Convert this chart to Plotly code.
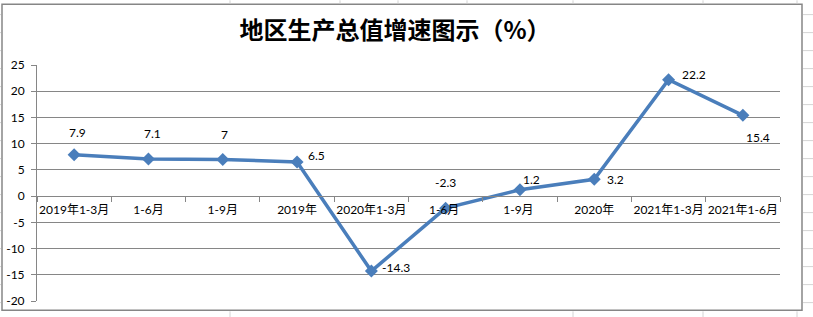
import plotly.graph_objects as go

categories = ["2019年1-3月", "1-6月", "1-9月", "2019年", "2020年1-3月",
              "1-6月 ", "1-9月 ", "2020年", "2021年1-3月", "2021年1-6月"]
values = [7.9, 7.1, 7, 6.5, -14.3, -2.3, 1.2, 3.2, 22.2, 15.4]
value_labels = ["7.9", "7.1", "7", "6.5", "-14.3", "-2.3", "1.2", "3.2", "22.2", "15.4"]
label_dx = [3, 4, 2, 19, 25, 0, 12, 21, 25, 15]
label_dy = [22, 25, 25, 7, 4, 26, 10, 0, 5, -22]
y_ticks = [25, 20, 15, 10, 5, 0, -5, -10, -15, -20]

W, H = 813, 317
L, R, T, B = 37, 33, 64.7, 16.3
pw, ph = W - L - R, H - T - B

def px(x):
    return (x - L) / pw

def py(y):
    return (H - B - y) / ph

grey = "#868686"
blue = "#4A7EBB"
num_font = "Lato, Liberation Sans, sans-serif"
cjk_font = "Lato, Noto Sans CJK SC, sans-serif"

fig = go.Figure()
fig.add_trace(go.Scatter(
    x=categories, y=values, mode="lines+markers",
    line=dict(color=blue, width=3.5),
    marker=dict(symbol="diamond", size=10, color=blue),
    hoverinfo="skip", showlegend=False,
))

for c, v, t, dx, dy in zip(categories, values, value_labels, label_dx, label_dy):
    fig.add_annotation(x=c, y=v, text=t, showarrow=False, xshift=dx, yshift=dy,
                       font=dict(family=num_font, size=12, color="black"))

shapes = []
# chart area border
shapes.append(dict(type="rect", xref="paper", yref="paper",
                   x0=px(2), x1=px(802), y0=py(310), y1=py(4),
                   line=dict(color=grey, width=1.5), layer="below"))
# faint spreadsheet grid outside the chart
sheet = "#D4D4D4"
for xv in [230, 340, 398, 467, 573, 703, 797]:
    shapes.append(dict(type="line", xref="paper", yref="paper",
                       x0=px(xv), x1=px(xv), y0=py(0), y1=py(3),
                       line=dict(color=sheet, width=1)))
for xv in [230, 573, 703, 797]:
    shapes.append(dict(type="line", xref="paper", yref="paper",
                       x0=px(xv), x1=px(xv), y0=py(311), y1=py(317),
                       line=dict(color=sheet, width=1)))
for k in range(17):
    yv = 14.3 + 18 * k
    shapes.append(dict(type="line", xref="paper", yref="paper",
                       x0=px(803), x1=px(813), y0=py(yv), y1=py(yv),
                       line=dict(color=sheet, width=1)))
    shapes.append(dict(type="line", xref="paper", yref="paper",
                       x0=px(0), x1=px(1), y0=py(yv), y1=py(yv),
                       line=dict(color=sheet, width=1)))

fig.update_layout(
    width=W, height=H,
    margin=dict(l=L, r=R, t=T, b=B, autoexpand=False),
    paper_bgcolor="white", plot_bgcolor="white",
    title=dict(text="<b>地区生产总值增速图示（%）</b>", x=395 / W, xanchor="center",
               y=1 - 31 / H, yanchor="middle", yref="container",
               font=dict(family="Noto Sans CJK SC, sans-serif", size=24, color="black")),
    shapes=shapes,
    xaxis=dict(
        type="category", range=[-0.5, 9.5], anchor="free", position=20 / 45,
        showgrid=False, showline=True, linecolor=grey, linewidth=1,
        ticks="outside", tickson="boundaries", ticklen=5, tickcolor=grey,
        tickangle=0, ticklabelstandoff=2, automargin=False,
        tickfont=dict(family=cjk_font, size=12, color="black"),
        zeroline=False, fixedrange=True,
    ),
    yaxis=dict(
        range=[-20, 25], tickvals=y_ticks, ticktext=[str(v) for v in y_ticks],
        showgrid=True, gridcolor=grey, gridwidth=1,
        showline=True, linecolor=grey, linewidth=1,
        ticks="outside", ticklen=5, tickcolor=grey, ticklabelstandoff=4,
        automargin=False,
        tickfont=dict(family=num_font, size=12, color="black"),
        zeroline=False, fixedrange=True,
    ),
)

fig.write_html("out.html")
